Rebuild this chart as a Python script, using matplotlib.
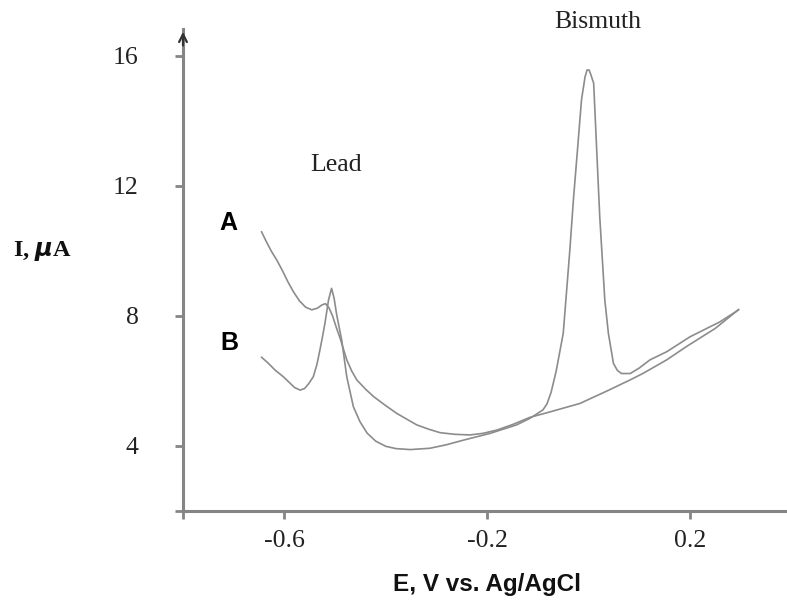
import matplotlib
matplotlib.use("Agg")
import matplotlib.pyplot as plt

# Stripping voltammograms: potential (V vs. Ag/AgCl) and current (uA)
e_a = [-0.645, -0.636, -0.626, -0.615, -0.604, -0.593, -0.582, -0.570, -0.558,
       -0.546, -0.535, -0.526, -0.519, -0.512, -0.505, -0.497, -0.490, -0.477,
       -0.467, -0.457, -0.440, -0.424, -0.400, -0.378, -0.358, -0.339, -0.316,
       -0.293, -0.264, -0.234, -0.208, -0.181, -0.150, -0.116, -0.076, -0.017,
       0.040, 0.088, 0.108, 0.154, 0.193, 0.250, 0.296]
i_a = [10.59, 10.30, 10.00, 9.72, 9.40, 9.05, 8.74, 8.46, 8.27,
       8.19, 8.24, 8.34, 8.38, 8.25, 8.00, 7.62, 7.31, 6.65,
       6.30, 6.03, 5.75, 5.52, 5.24, 5.00, 4.82, 4.65, 4.52,
       4.41, 4.36, 4.34, 4.39, 4.49, 4.66, 4.88, 5.05, 5.31,
       5.72, 6.08, 6.24, 6.65, 7.06, 7.62, 8.20]

e_b = [-0.645, -0.632, -0.618, -0.602, -0.590, -0.580, -0.569, -0.560, -0.552,
       -0.543, -0.536, -0.530, -0.525, -0.520, -0.513, -0.507, -0.502, -0.497,
       -0.487, -0.477, -0.464, -0.451, -0.437, -0.420, -0.400, -0.380, -0.352,
       -0.313, -0.280, -0.247, -0.194, -0.142, -0.116, -0.090, -0.082, -0.074,
       -0.064, -0.050, -0.037, -0.030, -0.022, -0.014, -0.007, -0.003, 0.001,
       0.005, 0.010, 0.016, 0.022, 0.032, 0.039, 0.049, 0.057, 0.065, 0.082,
       0.100, 0.121, 0.154, 0.200, 0.259, 0.295]
i_b = [6.73, 6.55, 6.33, 6.13, 5.95, 5.80, 5.72, 5.77, 5.92,
       6.13, 6.50, 6.95, 7.35, 7.78, 8.49, 8.85, 8.55, 8.05,
       7.26, 6.13, 5.21, 4.75, 4.40, 4.15, 3.99, 3.92, 3.89,
       3.93, 4.04, 4.18, 4.39, 4.65, 4.85, 5.11, 5.30, 5.65,
       6.30, 7.47, 10.03, 11.57, 13.10, 14.65, 15.36, 15.57, 15.57,
       15.40, 15.16, 13.10, 11.05, 8.49, 7.47, 6.54, 6.32, 6.23, 6.23,
       6.40, 6.65, 6.90, 7.36, 7.82, 8.18]

y_ticks = [4, 8, 12, 16]
x_ticks = [-0.8, -0.6, -0.2, 0.2]
x_tick_labels = ["", "-0.6", "-0.2", "0.2"]

W, H = 787, 601
fig = plt.figure(figsize=(W / 100, H / 100), dpi=100)
ax = fig.add_axes([183 / W, 90 / H, (W - 183) / W, (511 - 29) / H])

line_col = "#8c8c8c"
axis_col = "#858585"

ax.plot(e_a, i_a, color=line_col, lw=1.2, solid_joinstyle="round")
ax.plot(e_b, i_b, color=line_col, lw=1.2, solid_joinstyle="round")

ax.set_xlim(-0.8, -0.8 + (W - 183) / 507)
ax.set_ylim(2, 2 + (511 - 29) / 32.5)

for side in ("top", "right"):
    ax.spines[side].set_visible(False)
for side in ("left", "bottom"):
    ax.spines[side].set_color(axis_col)
    ax.spines[side].set_linewidth(2.2)

serif = "Liberation Serif"
sans = "Liberation Sans"

ax.set_yticks([2] + y_ticks)
ax.set_yticklabels([""] + [str(v) for v in y_ticks], fontfamily=serif, fontsize=18.5)
ax.set_xticks(x_ticks)
ax.set_xticklabels(x_tick_labels, fontfamily=serif, fontsize=18.5)
ax.tick_params(axis="y", direction="out", length=6, width=2, color=axis_col,
               pad=26, labelcolor="#222222")
ax.tick_params(axis="x", direction="out", length=6, width=2, color=axis_col,
               pad=8, labelcolor="#222222")

# arrow head on the current axis
ax.annotate("", xy=(0, 1.0), xytext=(0, 0.96), xycoords="axes fraction",
            arrowprops=dict(arrowstyle="->", color="#333333", lw=1.6,
                            mutation_scale=14), annotation_clip=False)

ax.text(-0.498, 12.65, "Lead", fontfamily=serif, fontsize=18.5,
        ha="center", va="center", color="#222222")
ax.text(0.019, 17.05, "Bismuth", fontfamily=serif, fontsize=18.5,
        ha="center", va="center", color="#222222", clip_on=False)
ax.text(-0.711, 10.86, "A", fontfamily=sans, fontweight="bold", fontsize=18,
        ha="center", va="center", color="black")
ax.text(-0.709, 7.17, "B", fontfamily=sans, fontweight="bold", fontsize=18,
        ha="center", va="center", color="black")

fig.text(487 / W, 1 - 584 / H, "E, V vs. Ag/AgCl", fontfamily=sans,
         fontweight="bold", fontsize=17.5, ha="center", va="center",
         color="#111111")
fig.text(42 / W, 1 - 251 / H, "I, $\\boldsymbol{\\mu}$A", fontfamily=serif,
         fontweight="bold", fontsize=17.5, ha="center", va="center",
         color="#111111")

fig.savefig("out.png", dpi=100)
